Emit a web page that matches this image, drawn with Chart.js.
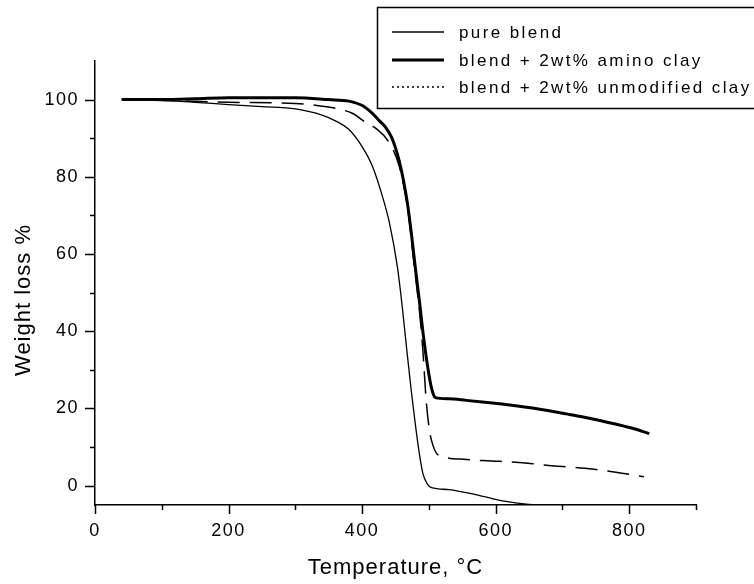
<!DOCTYPE html>
<html>
<head>
<meta charset="utf-8">
<script src="https://cdn.jsdelivr.net/npm/chart.js@4.4.0/dist/chart.umd.min.js"></script>
<style>
html,body{margin:0;padding:0;background:#fff;}
#wrap{width:754px;height:584px;position:relative;}
</style>
</head>
<body>
<div id="wrap"><canvas id="c"></canvas></div>
<script>
// ---- data ----
const seriesNames = ['pure blend', 'blend + 2wt% amino clay', 'blend + 2wt% unmodified clay'];

const pureTemp   = [40, 100, 150, 200, 250, 300, 340, 360, 380, 400, 416, 431, 441, 453, 460, 467, 474, 480, 486, 491, 497, 504, 530, 556, 575, 596, 620, 646, 660];
const pureWeight = [100, 99.8, 99.3, 98.7, 98.2, 97.6, 96, 94.5, 92.3, 87.8, 82.5, 74.6, 68, 56.5, 46.5, 35, 24, 15.5, 8, 3.2, 0.6, -0.5, -1, -1.8, -2.5, -3.4, -4.2, -4.8, -5];

const aminoTemp   = [40, 100, 150, 200, 300, 350, 380, 401, 415, 426, 435, 444, 450, 456, 462, 468, 474, 480, 486, 492, 498, 503, 507, 510, 530, 556, 580, 606, 630, 655, 680, 706, 731, 756, 781, 806, 830];
const aminoWeight = [100, 100, 100.2, 100.5, 100.5, 100, 99.6, 98.4, 96.5, 94.5, 92.9, 90.3, 87.5, 83.8, 79, 73, 65, 56, 47.5, 38.5, 31, 26, 23.5, 22.8, 22.5, 22.1, 21.7, 21.2, 20.7, 20.1, 19.4, 18.6, 17.8, 16.9, 15.9, 14.8, 13.5];

const unmodTemp   = [40, 100, 200, 300, 340, 361, 386, 406, 421, 440, 456, 468, 478, 486, 491, 496, 501, 506, 511, 526, 556, 581, 606, 655, 676, 706, 745, 780, 822];
const unmodWeight = [100, 99.8, 99.3, 99, 98.3, 97.7, 96.4, 94, 92.5, 89, 82.5, 72, 57, 45, 35, 22, 14.2, 10.5, 8.5, 7.3, 6.8, 6.5, 6.3, 5.7, 5.3, 4.9, 4.3, 3.5, 2.3];

const xTickLabels = [0, 200, 400, 600, 800];
const xMinorTicks = [100, 300, 500, 700, 900];
const yTickLabels = [0, 20, 40, 60, 80, 100];
const yMinorTicks = [10, 30, 50, 70, 90];
const xTitle = 'Temperature, °C';
const yTitle = 'Weight loss %';

// ---- helpers ----
const pts = (xs, ys) => xs.map((v, i) => ({x: v, y: ys[i]}));
const FONT = '"Liberation Sans", Arial, Helvetica, sans-serif';

const styles = [
  {borderWidth: 1.3, borderDash: [], legendDash: []},
  {borderWidth: 3, borderDash: [], legendDash: []},
  {borderWidth: 1.5, borderDash: [22, 10], legendDash: [2, 3]}
];

const decor = {
  id: 'decor',
  beforeDraw(chart) {
    chart.ctx.letterSpacing = '1.5px';
  },
  afterDraw(chart) {
    const ctx = chart.ctx;
    const {x, y} = chart.scales;
    const area = chart.chartArea;
    ctx.save();
    ctx.strokeStyle = '#000';
    ctx.lineWidth = 1.5;
    ctx.setLineDash([]);
    ctx.beginPath();
    xTickLabels.forEach(v => { const p = Math.round(x.getPixelForValue(v)) + 0.5; ctx.moveTo(p, area.bottom); ctx.lineTo(p, area.bottom + 9); });
    xMinorTicks.forEach(v => { const p = Math.round(x.getPixelForValue(v)) + 0.5; ctx.moveTo(p, area.bottom); ctx.lineTo(p, area.bottom + 5); });
    yTickLabels.forEach(v => { const p = Math.round(y.getPixelForValue(v)) + 0.5; ctx.moveTo(area.left, p); ctx.lineTo(area.left - 10, p); });
    yMinorTicks.forEach(v => { const p = Math.round(y.getPixelForValue(v)) + 0.5; ctx.moveTo(area.left, p); ctx.lineTo(area.left - 5, p); });
    ctx.stroke();

    // axis titles
    ctx.fillStyle = '#000';
    ctx.font = '22px ' + FONT;
    ctx.letterSpacing = '1px';
    ctx.textAlign = 'center';
    ctx.textBaseline = 'middle';
    ctx.fillText(xTitle, (area.left + area.right) / 2, 568);
    ctx.save();
    ctx.translate(24, 300);
    ctx.rotate(-Math.PI / 2);
    ctx.fillText(yTitle, 0, 0);
    ctx.restore();

    // legend
    ctx.lineWidth = 1.5;
    ctx.strokeRect(377.5, 7.5, 420, 101);
    const rows = [32, 60, 87];
    ctx.font = '17px ' + FONT;
    ctx.letterSpacing = '2.4px';
    ctx.textAlign = 'left';
    ctx.textBaseline = 'middle';
    chart.data.datasets.forEach((ds, i) => {
      ctx.beginPath();
      ctx.lineWidth = styles[i].borderWidth;
      ctx.setLineDash(styles[i].legendDash);
      ctx.moveTo(392, rows[i]);
      ctx.lineTo(444, rows[i]);
      ctx.stroke();
      ctx.fillText(ds.label, 459, rows[i] + 1);
    });
    ctx.restore();
  }
};

new Chart(document.getElementById('c'), {
  type: 'line',
  data: {
    datasets: [
      {label: seriesNames[0], data: pts(pureTemp, pureWeight)},
      {label: seriesNames[1], data: pts(aminoTemp, aminoWeight)},
      {label: seriesNames[2], data: pts(unmodTemp, unmodWeight)}
    ].map((d, i) => Object.assign(d, {
      borderColor: '#000', backgroundColor: '#000',
      borderWidth: styles[i].borderWidth, borderDash: styles[i].borderDash,
      pointRadius: 0, fill: false, cubicInterpolationMode: 'monotone'
    }))
  },
  options: {
    responsive: true,
    maintainAspectRatio: false,
    animation: false,
    layout: {padding: {left: 0, right: 58, top: 61, bottom: 0}},
    plugins: {legend: {display: false}, tooltip: {enabled: false}, title: {display: false}},
    scales: {
      x: {
        type: 'linear', min: 0, max: 900,
        afterBuildTicks: s => { s.ticks = xTickLabels.map(v => ({value: v})); },
        afterFit: s => { s.height = 79; },
        grid: {display: false, drawTicks: false},
        border: {display: true, color: '#000', width: 1.5},
        ticks: {padding: 15, color: '#000', font: {family: FONT, size: 18}, maxRotation: 0, autoSkip: false}
      },
      y: {
        type: 'linear', min: -5, max: 110,
        afterBuildTicks: s => { s.ticks = yTickLabels.map(v => ({value: v})); },
        afterFit: s => { s.width = 95; },
        grid: {display: false, drawTicks: false},
        border: {display: true, color: '#000', width: 1.5},
        ticks: {padding: 16, color: '#000', font: {family: FONT, size: 18}, autoSkip: false}
      }
    }
  },
  plugins: [decor]
});
</script>
</body>
</html>
